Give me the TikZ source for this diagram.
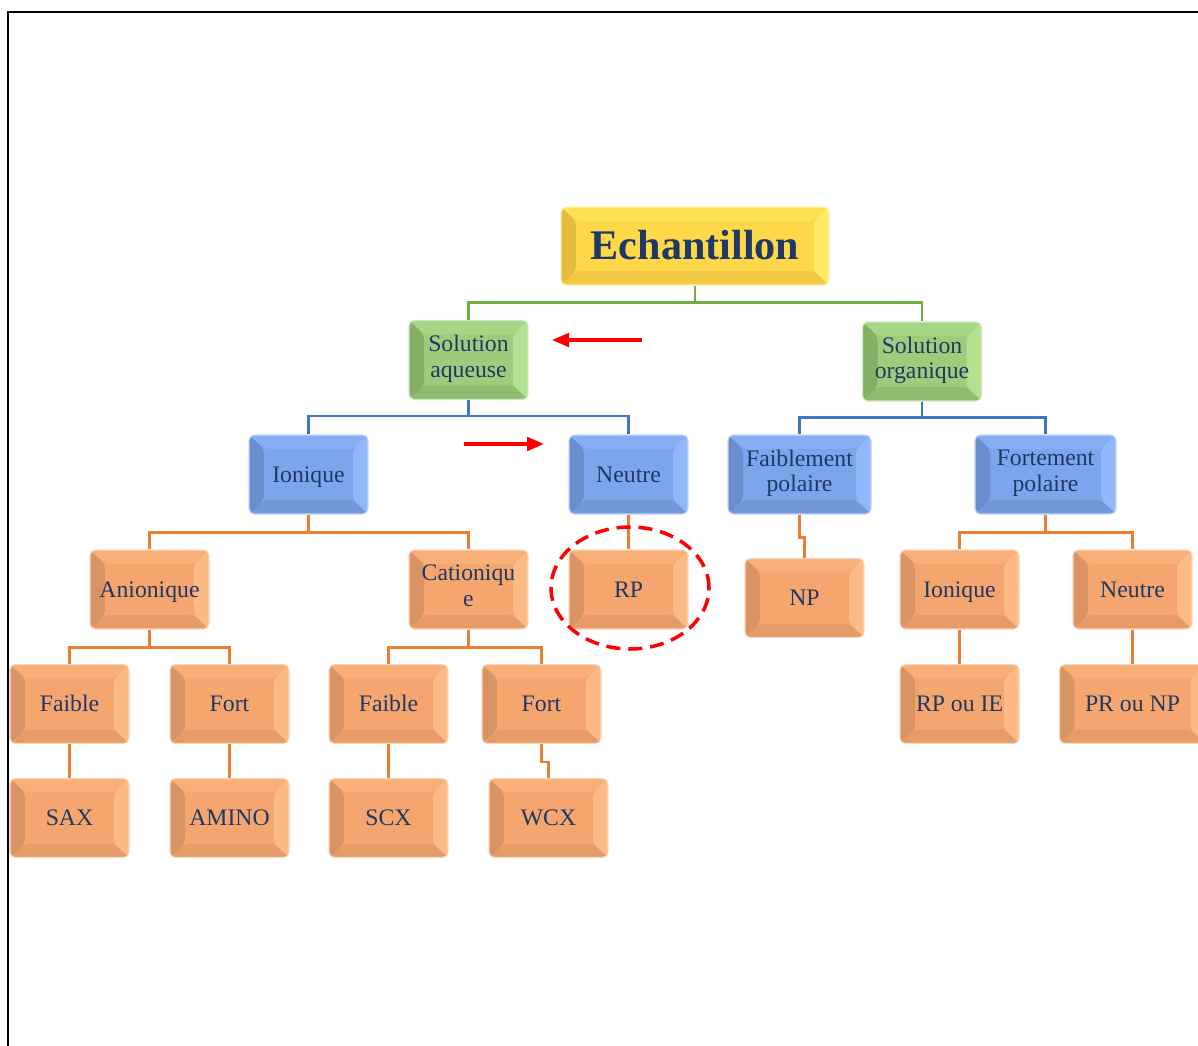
\documentclass[tikz,border=0pt]{standalone}
\usepackage{fontspec}
\setmainfont{Liberation Serif}
\usetikzlibrary{calc, arrows.meta}

\definecolor{navy}{HTML}{1F3864}
\definecolor{ylwbase}{HTML}{FFD84A}
\definecolor{ylwlight}{HTML}{FFEC62}
\definecolor{ylwdark}{HTML}{E6BC40}
\definecolor{grnbase}{HTML}{9CCC7C}
\definecolor{grnlight}{HTML}{B2E28F}
\definecolor{grndark}{HTML}{84B066}
\definecolor{blubase}{HTML}{7DA5EC}
\definecolor{blulight}{HTML}{92B8FC}
\definecolor{bludark}{HTML}{6A8DCD}
\definecolor{orgbase}{HTML}{F5A66E}
\definecolor{orglight}{HTML}{FCBB84}
\definecolor{orgdark}{HTML}{D99463}
\definecolor{grnline}{HTML}{70AD47}
\definecolor{bluline}{HTML}{4472C4}
\definecolor{orgline}{HTML}{ED7D31}

\newcommand{\boxstrut}{\rule[-0.32em]{0pt}{1.3em}}
% bevelled face of a box
\newcommand{\bevelfill}[1]{%
  \path (path picture bounding box.south west) coordinate (bsw)
        (path picture bounding box.north east) coordinate (bne);
  \path (bsw |- bne) coordinate (bnw) (bne |- bsw) coordinate (bse);
  \path ($(bsw)+(0.3,0.28)$) coordinate (isw) ($(bne)+(-0.3,-0.28)$) coordinate (ine);
  \path (isw |- ine) coordinate (inw) (ine |- isw) coordinate (ise);
  \fill[#1base] (bsw) rectangle (bne);
  \fill[#1base!55!#1light] (bnw) -- (bne) -- (ine) -- (inw) -- cycle;
  \fill[#1light] (bne) -- (bse) -- (ise) -- (ine) -- cycle;
  \fill[#1base!45!#1dark] (bsw) -- (bse) -- (ise) -- (isw) -- cycle;
  \fill[#1dark] (bsw) -- (bnw) -- (inw) -- (isw) -- cycle;
}

\tikzset{
  colbox/.style={rounded corners=3pt, minimum width=2.38cm, minimum height=1.58cm,
    align=center, text=navy, inner sep=2pt, font=\fontsize{13.5}{14.5}\selectfont,
    execute at begin node=\boxstrut, execute at end node=\boxstrut,
    draw=#1base!45!white, line width=0.6pt, path picture={\bevelfill{#1}}},
  link/.style={line width=1.3pt, #1line},
  redarrow/.style={red, line width=2pt, -{Triangle[length=0.34cm, width=0.27cm]}},
  redring/.style={red, line width=2pt, dash pattern=on 8pt off 4.5pt}
}

\begin{document}
\begin{tikzpicture}
    \useasboundingbox (0,0) rectangle (23.96,-20.9);
    % Frame
    \draw[line width=1.1pt] (0.16,-21.5) -- (0.16,-0.24) -- (24.5,-0.24);
    % Root
    \node[colbox=ylw, minimum width=5.36cm, minimum height=1.56cm,
          font=\fontsize{24}{28}\selectfont\bfseries] (ech) at (13.9,-4.92) {Echantillon};
    % Solutions
    \node[colbox=grn] (aq) at (9.37,-7.2) {Solution\\aqueuse};
    \node[colbox=grn] (org) at (18.44,-7.23) {Solution\\organique};
    % Second level
    \node[colbox=blu] (ion) at (6.17,-9.49) {Ionique};
    \node[colbox=blu] (neu) at (12.57,-9.49) {Neutre};
    \node[colbox=blu, minimum width=2.86cm] (faib) at (15.99,-9.49) {Faiblement\\polaire};
    \node[colbox=blu, minimum width=2.82cm] (fort) at (20.91,-9.49) {Fortement\\polaire};
    % Third level
    \node[colbox=org] (anio) at (2.99,-11.79) {Anionique};
    \node[colbox=org] (catio) at (9.37,-11.79) {Cationiqu\\e};
    \node[colbox=org] (rp) at (12.57,-11.79) {RP};
    \node[colbox=org] (np) at (16.09,-11.96) {NP};
    \node[colbox=org] (ion2) at (19.19,-11.79) {Ionique};
    \node[colbox=org] (neu2) at (22.65,-11.79) {Neutre};
    % Fourth level
    \node[colbox=org] (faibA) at (1.39,-14.08) {Faible};
    \node[colbox=org] (fortA) at (4.59,-14.08) {Fort};
    \node[colbox=org] (faibC) at (7.77,-14.08) {Faible};
    \node[colbox=org] (fortC) at (10.83,-14.08) {Fort};
    \node[colbox=org] (rpie) at (19.19,-14.08) {RP ou IE};
    \node[colbox=org, minimum width=2.92cm] (prnp) at (22.65,-14.08) {PR ou NP};
    % Phases
    \node[colbox=org] (sax) at (1.39,-16.36) {SAX};
    \node[colbox=org] (amino) at (4.59,-16.36) {AMINO};
    \node[colbox=org] (scx) at (7.77,-16.36) {SCX};
    \node[colbox=org] (wcx) at (10.97,-16.36) {WCX};
    % Links
    \draw[link=grn] (ech.south) -- ++(0,-0.34) -| (aq.north);
    \draw[link=grn] (ech.south) -- ++(0,-0.34) -| (org.north);
    \draw[link=blu] (aq.south) -- ++(0,-0.32) -| (ion.north);
    \draw[link=blu] (aq.south) -- ++(0,-0.32) -| (neu.north);
    \draw[link=blu] (org.south) -- ++(0,-0.32) -| (faib.north);
    \draw[link=blu] (org.south) -- ++(0,-0.32) -| (fort.north);
    \draw[link=org] (ion.south) -- ++(0,-0.36) -| (anio.north);
    \draw[link=org] (ion.south) -- ++(0,-0.36) -| (catio.north);
    \draw[link=org] (neu.south) -- (rp.north);
    \draw[link=org] (faib.south) -- ++(0,-0.46) -| (np.north);
    \draw[link=org] (fort.south) -- ++(0,-0.36) -| (ion2.north);
    \draw[link=org] (fort.south) -- ++(0,-0.36) -| (neu2.north);
    \draw[link=org] (anio.south) -- ++(0,-0.36) -| (faibA.north);
    \draw[link=org] (anio.south) -- ++(0,-0.36) -| (fortA.north);
    \draw[link=org] (catio.south) -- ++(0,-0.36) -| (faibC.north);
    \draw[link=org] (catio.south) -- ++(0,-0.36) -| (fortC.north);
    \draw[link=org] (faibA.south) -- (sax.north);
    \draw[link=org] (fortA.south) -- (amino.north);
    \draw[link=org] (faibC.south) -- (scx.north);
    \draw[link=org] (fortC.south) -- ++(0,-0.36) -| (wcx.north);
    \draw[link=org] (ion2.south) -- (rpie.north);
    \draw[link=org] (neu2.south) -- (prnp.north);
    % Red marks
    \coordinate (a1) at (12.84,-6.8);
    \coordinate (b1) at (11.04,-6.8);
    \coordinate (a2) at (9.28,-8.88);
    \coordinate (b2) at (10.88,-8.88);
    \draw[redarrow] (a1) -- (b1);
    \draw[redarrow] (a2) -- (b2);
    \draw[redring] ($(rp.center)+(0.03,0.03)$) ellipse [x radius=1.58cm, y radius=1.22cm];
\end{tikzpicture}
\end{document}
